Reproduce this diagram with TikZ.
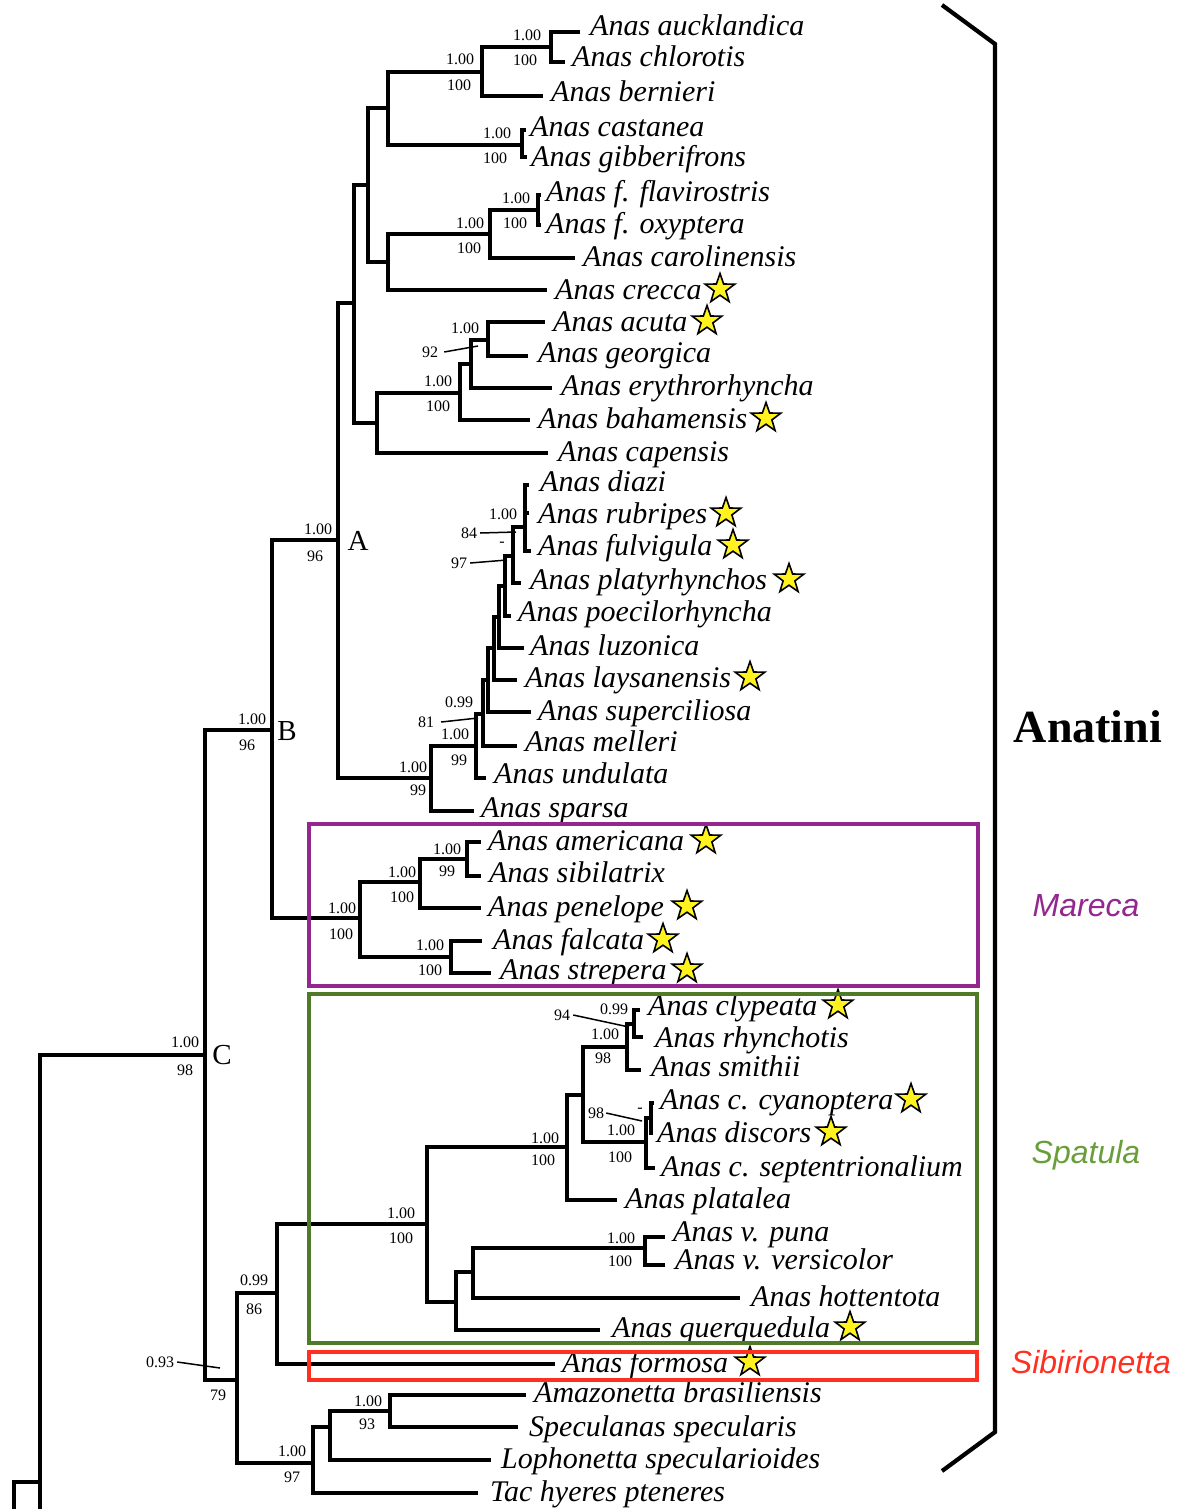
\documentclass[tikz,border=0pt]{standalone}
\usepackage{fontspec}
\setmainfont{Liberation Serif}
\newfontfamily\cladesans{Liberation Sans}
\usetikzlibrary{shapes.geometric}
\definecolor{marecaC}{HTML}{93278F}
\definecolor{spatBox}{HTML}{4F7A28}
\definecolor{spatTxt}{HTML}{6A9E3A}
\definecolor{sibC}{HTML}{FF3020}
\definecolor{starY}{HTML}{FFF21E}
\begin{document}
\begin{tikzpicture}[x=1pt,y=-1pt,
  br/.style={line width=3.3pt, line join=miter, line cap=butt},
  lead/.style={line width=1.5pt},
  taxon/.style={font=\fontsize{30}{30}\selectfont\itshape, anchor=base west, inner sep=0pt},
  lab/.style={font=\fontsize{16}{16}\selectfont, inner sep=0pt},
  cladeletter/.style={font=\fontsize{29}{29}\selectfont, inner sep=0pt},
  cladename/.style={font=\fontsize{32}{32}\selectfont\cladesans\itshape, inner sep=0pt},
  starnode/.style={star, star points=5, star point ratio=2.5, minimum size=31pt, inner sep=0pt, fill=starY, draw=black, line width=1.6pt},
  boxline/.style={line width=4.2pt}
]
\fill[white] (0,0) rectangle (1180,1509);
\useasboundingbox (0,0) rectangle (1180,1509);

% internal nodes
\coordinate (root) at (40,1509);
\coordinate (rootTop) at (40,1482);
\coordinate (og) at (14,1482);
\coordinate (ogEnd) at (14,1509);
\coordinate (C) at (205,1055);
\coordinate (B) at (272,730);
\coordinate (A) at (338,540);
\coordinate (A1) at (354,303);
\coordinate (A2) at (368,185);
\coordinate (A4) at (388,108);
\coordinate (A6) at (482,72);
\coordinate (A8) at (551,47);
\coordinate (A7) at (522,145);
\coordinate (A5) at (388,262);
\coordinate (A9) at (490,234);
\coordinate (A10) at (538,210);
\coordinate (A3) at (377,423);
\coordinate (A11) at (460,393);
\coordinate (A12) at (471,364);
\coordinate (A13) at (488,340);
\coordinate (N1) at (525,527);
\coordinate (N2) at (513,556);
\coordinate (N3) at (505,586);
\coordinate (N4) at (499,617);
\coordinate (N5) at (494,648);
\coordinate (N6) at (488,680);
\coordinate (N7) at (483,714);
\coordinate (N8) at (476,746);
\coordinate (N9) at (431,778);
\coordinate (Mar) at (360,918);
\coordinate (M1) at (420,882);
\coordinate (M3) at (467,859);
\coordinate (M2) at (451,957);
\coordinate (D) at (237,1380);
\coordinate (E) at (277,1293);
\coordinate (Sp) at (427,1224);
\coordinate (S1) at (567,1147);
\coordinate (S3) at (583,1095);
\coordinate (S4) at (627,1047);
\coordinate (S6) at (634,1024);
\coordinate (S5) at (646,1142);
\coordinate (S7) at (651,1118);
\coordinate (S2) at (456,1302);
\coordinate (S8) at (473,1272);
\coordinate (S9) at (645,1248);
\coordinate (F) at (313,1463);
\coordinate (F1) at (330,1427);
\coordinate (F2) at (390,1411);

% tips: name / line end x / line y / text x / text centre y / text
\foreach \n/\lx/\ly/\tx/\ty/\t in {
 auck/580/32/590/27/Anas aucklandica,
 chlo/565/62/572/58/Anas chlorotis,
 bern/543/96/551/93/Anas bernieri,
 cast/526/130/530/127/Anas castanea,
 gibb/527/157/531/157/Anas gibberifrons,
 flav/541/195/546/192/Anas f. flavirostris,
 oxyp/541/225/546/224/Anas f. oxyptera,
 caro/575/258/583/257/Anas carolinensis,
 crec/547/290/555/290/Anas crecca,
 acut/545/322/553/322/Anas acuta,
 geor/528/356/538/353/Anas georgica,
 eryt/552/388/561/386/Anas erythrorhyncha,
 baha/530/420/538/419/Anas bahamensis,
 cape/548/453/558/452/Anas capensis,
 diaz/529/485/540/482/Anas diazi,
 rubr/529/513/538/514/Anas rubripes,
 fulv/531/551/538/546/Anas fulvigula,
 plat/521/583/530/580/Anas platyrhynchos,
 poec/511/616/518/612/Anas poecilorhyncha,
 luzo/524/648/530/646/Anas luzonica,
 lays/517/680/525/678/Anas laysanensis,
 supe/531/712/538/711/Anas superciliosa,
 mell/517/746/525/742/Anas melleri,
 undu/486/778/494/774/Anas undulata,
 spar/474/811/481/808/Anas sparsa,
 amer/481/842/488/841/Anas americana,
 sibi/481/876/489/873/Anas sibilatrix,
 pene/481/908/488/907/Anas penelope,
 falc/482/941/493/940/Anas falcata,
 stre/491/973/500/970/Anas strepera,
 clyp/640/1010/648/1006/Anas clypeata,
 rhyn/643/1037/655/1038/Anas rhynchotis,
 smit/641/1070/651/1067/Anas smithii,
 cyan/654/1103/660/1100/Anas c. cyanoptera,
 disc/653/1133/657/1133/Anas discors,
 sept/655/1168/661/1167/Anas c. septentrionalium,
 plta/617/1200/625/1199/Anas platalea,
 puna/665/1237/673/1232/Anas v. puna,
 vers/665/1265/675/1260/Anas v. versicolor,
 hott/740/1298/751/1297/Anas hottentota,
 quer/600/1330/612/1328/Anas querquedula,
 form/555/1364/562/1363/Anas formosa,
 amaz/526/1395/534/1393/Amazonetta brasiliensis,
 spec/518/1427/529/1427/Speculanas specularis,
 loph/491/1460/501/1459/Lophonetta specularioides,
 tach/478/1493/490/1492/Tac hyeres pteneres}{
  \coordinate (t\n) at (\lx,\ly);
  \node[taxon] (n\n) at (\tx,\ty+9) {\t};
}

% branches
\draw[br] (root) |- (C);
\draw[br] (rootTop) -- (og) -- (ogEnd);
\foreach \p/\c in {C/B, C/D, B/A, B/Mar, A/A1, A/N9, A1/A2, A1/A3,
  A2/A4, A2/A5, A4/A6, A4/A7, A6/A8, A6/tbern, A8/tauck, A8/tchlo,
  A7/tcast, A7/tgibb, A5/A9, A5/tcrec, A9/A10, A9/tcaro, A10/tflav, A10/toxyp,
  A3/A11, A3/tcape, A11/A12, A11/tbaha, A12/A13, A12/teryt, A13/tacut, A13/tgeor,
  N9/N8, N9/tspar, N8/N7, N8/tundu, N7/N6, N7/tmell, N6/N5, N6/tsupe,
  N5/N4, N5/tlays, N4/N3, N4/tluzo, N3/N2, N3/tpoec, N2/N1, N2/tplat,
  N1/tdiaz, N1/trubr, N1/tfulv,
  Mar/M1, Mar/M2, M1/M3, M1/tpene, M3/tamer, M3/tsibi, M2/tfalc, M2/tstre,
  D/E, D/F, E/Sp, E/tform, Sp/S1, Sp/S2, S1/S3, S1/tplta, S3/S4, S3/S5,
  S4/S6, S4/tsmit, S6/tclyp, S6/trhyn, S5/S7, S5/tsept, S7/tcyan, S7/tdisc,
  S2/S8, S2/tquer, S8/S9, S8/thott, S9/tpuna, S9/tvers,
  F/F1, F/ttach, F1/F2, F1/tloph, F2/tamaz, F2/tspec}{
  \draw[br] (\p) |- (\c);
}

% support values
\foreach \n/\x/\y/\t in {
 la1/527/35/1.00, la2/525/60/100,
 la3/460/59/1.00, la4/459/85/100,
 la5/497/133/1.00, la6/495/158/100,
 la7/516/198/1.00, la8/515/223/100,
 la9/470/223/1.00, la10/469/248/100,
 la11/465/328/1.00, la12/430/352/92,
 la13/438/381/1.00, la14/438/406/100,
 la15/503/514/1.00, la16/469/533/84,
 la17/502/544/-, la18/459/563/97,
 la19/459/702/0.99, la20/426/722/81,
 la21/455/734/1.00, la22/459/760/99,
 la23/413/767/1.00, la24/418/790/99,
 la25/318/529/1.00, la26/315/556/96,
 la27/252/719/1.00, la28/247/745/96,
 la29/447/849/1.00, la30/447/871/99,
 la31/402/872/1.00, la32/402/897/100,
 la33/430/945/1.00, la34/430/970/100,
 la35/342/908/1.00, la36/341/934/100,
 la37/185/1042/1.00, la38/185/1070/98,
 la39/562/1015/94, la40/614/1009/0.99, la41/605/1034/1.00, la42/603/1058/98,
 la43/596/1113/98, la44/640/1110/-, la45/621/1130/1.00, la46/620/1157/100,
 la47/545/1138/1.00, la48/543/1160/100,
 la49/401/1213/1.00, la50/401/1238/100,
 la51/621/1238/1.00, la52/620/1261/100,
 la53/254/1280/0.99, la54/254/1309/86,
 la55/160/1362/0.93, la56/218/1395/79,
 la57/368/1401/1.00, la58/367/1424/93,
 la59/292/1451/1.00, la60/292/1477/97}{
  \node[lab] (\n) at (\x,\y) {\t};
}

% leader lines
\coordinate (k12) at (478,346);
\coordinate (k16) at (516,532);
\coordinate (k18) at (507,560);
\coordinate (k20) at (478,718);
\coordinate (k39) at (629,1027);
\coordinate (k43) at (642,1121);
\coordinate (k55) at (220,1368);
\draw[lead] ([xshift=6pt]la12.east) -- (k12);
\draw[lead] ([xshift=3pt]la16.east) -- (k16);
\draw[lead] ([xshift=3pt]la18.east) -- (k18);
\draw[lead] ([xshift=7pt]la20.east) -- (k20);
\draw[lead] ([xshift=3pt]la39.east) -- (k39);
\draw[lead] ([xshift=2pt]la43.east) -- (k43);
\draw[lead] ([xshift=3pt]la55.east) -- (k55);

% clade letters
\node[cladeletter] (cA) at (358,541) {A};
\node[cladeletter] (cB) at (287,731) {B};
\node[cladeletter] (cC) at (222,1055) {C};

% stars
\foreach \n/\sx/\sy in {crec/720/289, acut/707/321, baha/766/418, rubr/726/513,
  fulv/733/545, plat/789/579, lays/750/677, amer/706/840, pene/687/906,
  falc/663/939, stre/687/969, clyp/838/1005, cyan/911/1099, disc/831/1132,
  quer/850/1327, form/750/1362}{
  \node[starnode] (s\n) at (\sx,\sy) {};
}

% clade boxes
\draw[boxline, marecaC] (309,824) rectangle (978,986);
\draw[boxline, spatBox] (309,994) rectangle (977,1343);
\draw[boxline, sibC] (309,1352) rectangle (977,1380);

\node[cladename, text=marecaC] (lMar) at (1086,906) {Mareca};
\node[cladename, text=spatTxt] (lSpa) at (1086,1155) {Spatula};
\node[cladename, text=sibC] (lSib) at (1091,1362) {Sibirionetta};

% Anatini bracket
\coordinate (bk1) at (942,5);
\coordinate (bk2) at (995,44);
\coordinate (bk3) at (995,1432);
\coordinate (bk4) at (942,1471);
\draw[line width=4.2pt, line join=miter] (bk1) -- (bk2) -- (bk3) -- (bk4);
\node[font=\fontsize{46}{46}\selectfont\bfseries, inner sep=0pt] (lAna) at (1088,727) {Anatini};
\end{tikzpicture}
\end{document}
